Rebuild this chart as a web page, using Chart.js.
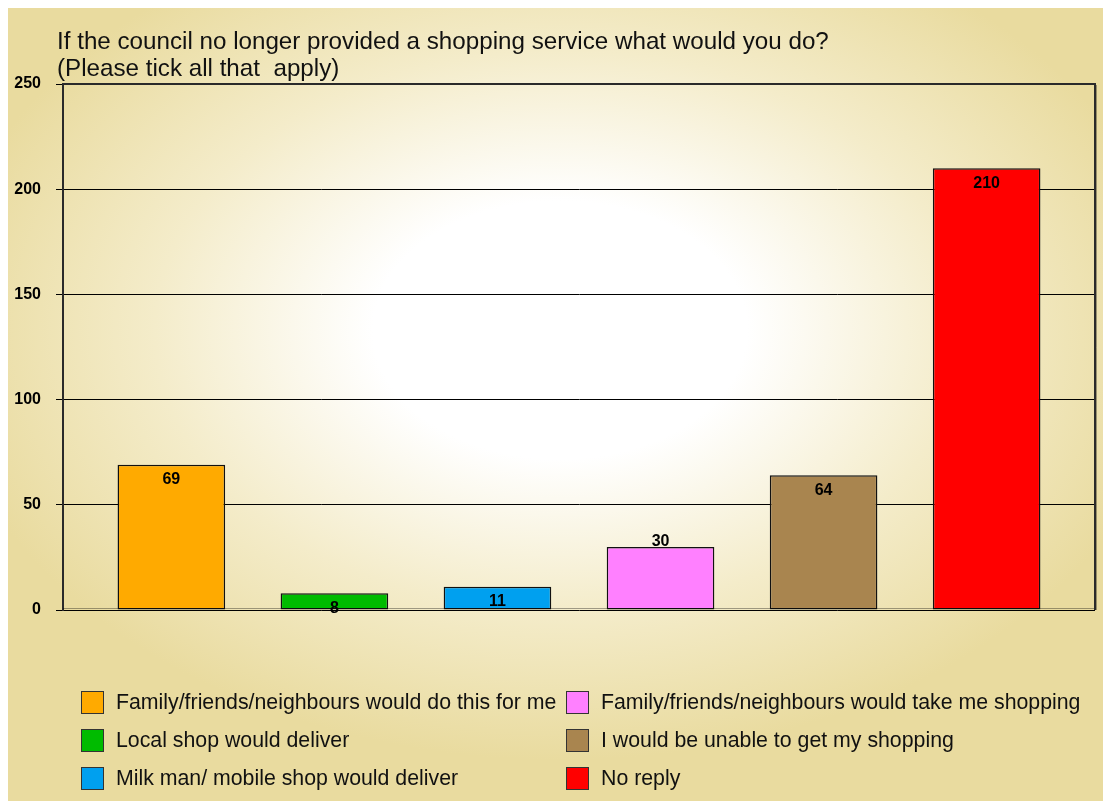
<!DOCTYPE html>
<html>
<head>
<meta charset="utf-8">
<script src="https://cdn.jsdelivr.net/npm/chart.js@4.4.0/dist/chart.umd.min.js"></script>
<style>
html, body { margin: 0; padding: 0; background: #fff; }
canvas { display: block; }
</style>
</head>
<body>
<canvas id="grafico" width="1103" height="801"></canvas>
<script>
// datos
const titulo = ["If the council no longer provided a shopping service what would you do?", "(Please tick all that  apply)"];
const respuestas = [
    "Family/friends/neighbours would do this for me",
    "Local shop would deliver",
    "Milk man/ mobile shop would deliver",
    "Family/friends/neighbours would take me shopping",
    "I would be unable to get my shopping",
    "No reply"
];
const valores = [69, 8, 11, 30, 64, 210];
const colores = ["#FFAA00", "#00BB00", "#00A0EF", "#FF80FF", "#A9854F", "#FF0000"];
const ticks_y = [0, 50, 100, 150, 200, 250];

const FUENTE = '"Liberation Sans", Arial, sans-serif';

// fondo beige con centro blanco
const fondo = {
    id: "fondo",
    beforeDraw(chart) {
        let ctx = chart.ctx;
        let w = chart.width, h = chart.height;
        ctx.save();
        ctx.fillStyle = "#fff";
        ctx.fillRect(0, 0, w, h);
        let cx = 560, cy = 330, sx = 1.45;
        ctx.translate(cx, cy);
        ctx.scale(sx, 1);
        let g = ctx.createRadialGradient(0, 0, 0, 0, 0, 430);
        g.addColorStop(0, "#ffffff");
        g.addColorStop(0.3, "#ffffff");
        g.addColorStop(0.65, "#F4ECCA");
        g.addColorStop(1, "#E9DB9F");
        ctx.fillStyle = g;
        ctx.fillRect((8 - cx) / sx, 8 - cy, (w - 8) / sx, h - 8);
        ctx.restore();
    }
};

// titulo, bordes, etiquetas y leyenda
const extras = {
    id: "extras",
    afterDatasetsDraw(chart) {
        let ctx = chart.ctx;
        ctx.save();
        ctx.font = "bold 16px " + FUENTE;
        ctx.fillStyle = "#000";
        ctx.textAlign = "center";
        ctx.textBaseline = "middle";
        chart.data.datasets.forEach((ds, i) => {
            let bar = chart.getDatasetMeta(i).data[0];
            let y = (i === 3) ? bar.y - 5 : bar.y + 15;
            ctx.fillText(ds.data[0], bar.x, y);
        });
        ctx.restore();
    },
    afterDraw(chart) {
        let ctx = chart.ctx;
        let a = chart.chartArea;
        ctx.save();

        // marco del area
        ctx.strokeStyle = "rgba(0,0,0,0.35)";
        ctx.lineWidth = 1;
        ctx.beginPath();
        ctx.moveTo(a.right + 1.5, a.top + 1);
        ctx.lineTo(a.right + 1.5, a.bottom);
        ctx.moveTo(a.left, a.bottom - 1.5);
        ctx.lineTo(a.right, a.bottom - 1.5);
        ctx.stroke();
        ctx.strokeStyle = "#2a2a2a";
        ctx.lineWidth = 2;
        ctx.beginPath();
        ctx.moveTo(a.left - 1, a.top);
        ctx.lineTo(a.right, a.top);
        ctx.lineTo(a.right, a.bottom);
        ctx.stroke();

        // titulo
        ctx.fillStyle = "#111";
        ctx.font = "24.2px " + FUENTE;
        ctx.textAlign = "left";
        ctx.textBaseline = "alphabetic";
        ctx.fillText(titulo[0], 57, 49);
        ctx.fillText(titulo[1], 57, 76);

        // leyenda en dos columnas
        let columnas = [[0, 1, 2], [3, 4, 5]];
        let xs = [81, 566];
        let ys = [702, 740, 778];
        ctx.font = "21.3px " + FUENTE;
        ctx.textBaseline = "middle";
        columnas.forEach((col, c) => {
            col.forEach((idx, r) => {
                let ds = chart.data.datasets[idx];
                ctx.fillStyle = ds.backgroundColor;
                ctx.fillRect(xs[c], ys[r] - 11, 22, 22);
                ctx.strokeStyle = "#333";
                ctx.lineWidth = 1;
                ctx.strokeRect(xs[c] + 0.5, ys[r] - 10.5, 22, 22);
                ctx.fillStyle = "#111";
                ctx.fillText(ds.label, xs[c] + 35, ys[r] + 1);
            });
        });
        ctx.restore();
    }
};

let datasets = [];
respuestas.forEach((r, i) => {
    datasets.push({
        label: r,
        data: [valores[i]],
        backgroundColor: colores[i],
        borderColor: "#111",
        borderWidth: 1.5,
        borderSkipped: false,
        categoryPercentage: 0.948,
        barPercentage: 0.66
    });
});

new Chart(document.getElementById("grafico"), {
    type: "bar",
    data: {
        labels: [""],
        datasets: datasets
    },
    options: {
        responsive: false,
        devicePixelRatio: 1,
        animation: false,
        layout: { padding: { left: 8, top: 84, right: 8, bottom: 191 } },
        plugins: {
            legend: { display: false },
            title: { display: false },
            tooltip: { enabled: false }
        },
        scales: {
            x: { display: false },
            y: {
                min: 0,
                max: 250,
                afterBuildTicks: function(scale) {
                    scale.ticks = ticks_y.map(v => ({ value: v }));
                },
                afterFit: function(scale) {
                    scale.width = 55;
                },
                ticks: {
                    color: "#000",
                    font: { family: FUENTE, size: 16, weight: "bold" },
                    padding: 15
                },
                grid: {
                    color: "#000",
                    lineWidth: 1,
                    tickLength: 7,
                    tickColor: "#000"
                },
                border: { display: true, color: "#2a2a2a", width: 2 }
            }
        }
    },
    plugins: [fondo, extras]
});
</script>
</body>
</html>
